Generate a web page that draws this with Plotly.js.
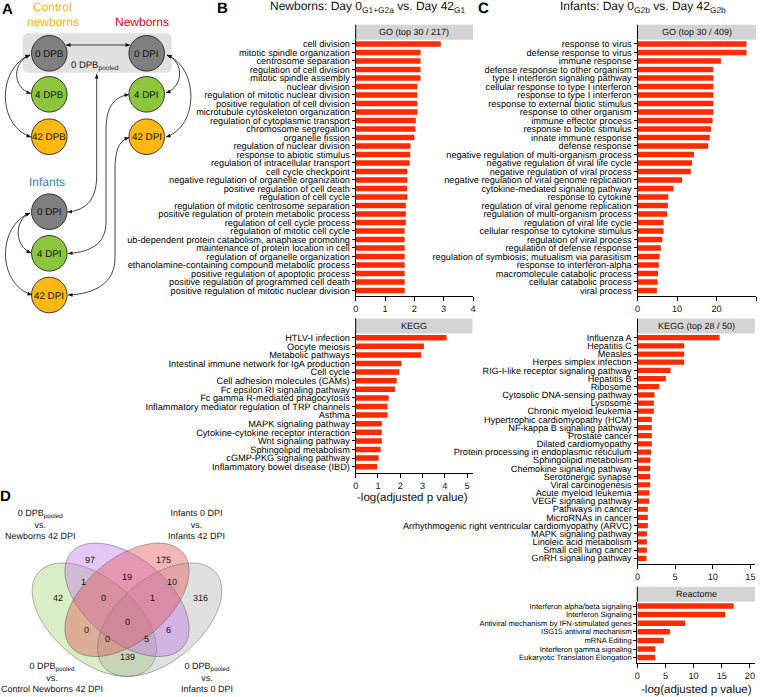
<!DOCTYPE html>
<html><head><meta charset="utf-8">
<script src="https://cdn.plot.ly/plotly-3.0.1.min.js"></script>
<style>html,body{margin:0;padding:0;background:#fff}#chart{width:761px;height:697px}#chart text{text-rendering:geometricPrecision}</style>
</head><body><div id="chart"></div>
<script>
// ---------------- DATA ----------------
const goB_terms = ["cell division","mitotic spindle organization","centrosome separation","regulation of cell division","mitotic spindle assembly","nuclear division","regulation of mitotic nuclear division","positive regulation of cell division","microtubule cytoskeleton organization","regulation of cytoplasmic transport","chromosome segregation","organelle fission","regulation of nuclear division","response to abiotic stimulus","regulation of intracellular transport","cell cycle checkpoint","negative regulation of organelle organization","positive regulation of cell death","regulation of cell cycle","regulation of mitotic centrosome separation","positive regulation of protein metabolic process","regulation of cell cycle process","regulation of mitotic cell cycle","ub-dependent protein catabolism, anaphase promoting","maintenance of protein location in cell","regulation of organelle organization","ethanolamine-containing compound metabolic process","positive regulation of apoptotic process","positive regulation of programmed cell death","positive regulation of mitotic nuclear division"];
const goB_vals = [2.90,2.21,2.21,2.21,2.21,2.10,2.10,2.10,2.10,2.05,2.04,2.00,1.87,1.86,1.84,1.76,1.76,1.75,1.76,1.71,1.71,1.71,1.67,1.67,1.67,1.67,1.67,1.67,1.67,1.67];

const keggB_terms = ["HTLV-I infection","Oocyte meiosis","Metabolic pathways","Intestinal immune network for IgA production","Cell cycle","Cell adhesion molecules (CAMs)","Fc epsilon RI signaling pathway","Fc gamma R-mediated phagocytosis","Inflammatory mediator regulation of TRP channels","Asthma","MAPK signaling pathway","Cytokine-cytokine receptor interaction","Wnt signaling pathway","Sphingolipid metabolism","cGMP-PKG signaling pathway","Inflammatory bowel disease (IBD)"];
const keggB_vals = [4.08,3.06,2.94,2.05,1.96,1.84,1.76,1.48,1.43,1.43,1.17,1.17,1.17,1.12,1.03,0.96];

const goC_terms = ["response to virus","defense response to virus","immune response","defense response to other organism","type I interferon signaling pathway","cellular response to type I interferon","response to type I interferon","response to external biotic stimulus","response to other organism","immune effector process","response to biotic stimulus","innate immune response","defense response","negative regulation of multi-organism process","negative regulation of viral life cycle","negative regulation of viral process","negative regulation of viral genome replication","cytokine-mediated signaling pathway","response to cytokine","regulation of viral genome replication","regulation of multi-organism process","regulation of viral life cycle","cellular response to cytokine stimulus","regulation of viral process","regulation of defense response","regulation of symbiosis; mutualism via parasitism","response to interferon-alpha","macromolecule catabolic process","cellular catabolic process","viral process"];
const goC_vals = [27.6,27.6,21.1,19.2,19.2,19.2,19.2,19.2,19.2,19.0,18.6,18.3,17.9,14.3,13.8,13.5,11.3,9.1,7.8,7.7,7.5,6.6,6.6,6.3,5.9,5.6,5.4,5.2,5.1,4.9];

const keggC_terms = ["Influenza A","Hepatitis C","Measles","Herpes simplex infection","RIG-I-like receptor signaling pathway","Hepatitis B","Ribosome","Cytosolic DNA-sensing pathway","Lysosome","Chronic myeloid leukemia","Hypertrophic cardiomyopathy (HCM)","NF-kappa B signaling pathway","Prostate cancer","Dilated cardiomyopathy","Protein processing in endoplasmic reticulum","Sphingolipid metabolism","Chemokine signaling pathway","Serotonergic synapse","Viral carcinogenesis","Acute myeloid leukemia","VEGF signaling pathway","Pathways in cancer","MicroRNAs in cancer","Arrhythmogenic right ventricular cardiomyopathy (ARVC)","MAPK signaling pathway","Linoleic acid metabolism","Small cell lung cancer","GnRH signaling pathway"];
const keggC_vals = [10.9,6.2,6.2,6.2,4.4,3.76,2.9,2.26,2.17,2.17,1.9,1.9,1.9,1.9,1.81,1.72,1.68,1.68,1.68,1.59,1.55,1.37,1.37,1.37,1.24,1.24,1.24,1.19];

const reactome_terms = ["Interferon alpha/beta signaling","Interferon Signaling","Antiviral mechanism by IFN-stimulated genes","ISG15 antiviral mechanism","mRNA Editing","Interferon gamma signaling","Eukaryotic Translation Elongation"];
const reactome_vals = [17.1,15.6,8.5,5.8,4.7,3.2,3.2];

const headers = ["GO (top 30 / 217)","KEGG","GO (top 30 / 409)","KEGG (top 28 / 50)","Reactome"];
const titleB = "Newborns: Day 0<sub>G1+G2a</sub> vs. Day 42<sub>G1</sub>";
const titleC = "Infants: Day 0<sub>G2b</sub> vs. Day 42<sub>G2b</sub>";
const xTitle = "-log(adjusted p value)";

const vennSetLabels = ["0 DPB<sub>pooled</sub><br>vs.<br>Newborns 42 DPI","Infants 0 DPI<br>vs.<br>Infants 42 DPI","0 DPB<sub>pooled</sub><br>vs.<br>Control Newborns 42 DPI","0 DPB<sub>pooled</sub><br>vs.<br>Infants 0 DPI"];
const vennCounts = [97,175,1,19,10,42,0,1,316,0,0,6,0,5,139];

const nodeLabels = ["0 DPB","0 DPI","4 DPB","4 DPI","42 DPB","42 DPI","0 DPI","4 DPI","42 DPI"];

// ---------------- LAYOUT HELPERS ----------------
const W=761,H=697;
const FONT='Liberation Sans, Arial, sans-serif';
const INK='#111111';
const BAR='#ff2a00';
const px=x=>x/W, py=y=>1-y/H;
const P=(x,y)=>(x/W).toFixed(5)+','+(1-y/H).toFixed(5);

const traces=[], shapes=[], ann=[];
const layout={width:W,height:H,margin:{l:0,r:0,t:0,b:0},paper_bgcolor:'#fff',plot_bgcolor:'rgba(0,0,0,0)',
  showlegend:false,hovermode:false,font:{family:FONT,color:INK}};

const panels=[
 {terms:goB_terms, vals:goB_vals, xL:355.7,xR:473,  yTop:39.7, yBot:296,  step:8.5, xmax:4,    dtick:1, fs:9.2, h:0},
 {terms:keggB_terms,vals:keggB_vals,xL:355.7,xR:472.5,yTop:333.4,yBot:472.5,step:8.6, xmax:5.24, dtick:1, fs:9.2, h:1},
 {terms:goC_terms, vals:goC_vals, xL:637.5,xR:756,  yTop:39.7, yBot:296,  step:8.5, xmax:30,   dtick:10,fs:9.2, h:2},
 {terms:keggC_terms,vals:keggC_vals,xL:637.5,xR:755,  yTop:333.6,yBot:564,  step:8.17,xmax:15.6, dtick:5, fs:9.1, h:3},
 {terms:reactome_terms,vals:reactome_vals,xL:637.3,xR:755,yTop:601.7,yBot:663.3,step:8.6,xmax:20.9,dtick:5,fs:7.6,h:4}
];

panels.forEach((p,i)=>{
  const n=i+1, xa='x'+(n>1?n:''), ya='y'+(n>1?n:'');
  traces.push({type:'bar',orientation:'h',x:p.vals,y:p.terms,xaxis:xa,yaxis:ya,
    marker:{color:BAR,line:{width:0}},width:0.64});
  layout['xaxis'+(n>1?n:'')]={domain:[px(p.xL),px(p.xR)],range:[0,p.xmax],anchor:ya,color:INK,
    showline:true,linecolor:'#000',linewidth:1,ticks:'outside',ticklen:4,tickwidth:1,tickcolor:'#000',
    dtick:p.dtick,tick0:0,showgrid:false,zeroline:false,tickfont:{size:9.2,family:FONT,color:INK},fixedrange:true};
  layout['yaxis'+(n>1?n:'')]={domain:[py(p.yBot),py(p.yTop)],type:'category',anchor:xa,color:INK,
    range:[-0.5+(p.yBot-p.yTop)/p.step,-0.5],categoryorder:'array',categoryarray:p.terms,
    tickmode:'array',tickvals:p.terms,ticktext:p.terms,
    showline:true,linecolor:'#000',linewidth:1,ticks:'outside',ticklen:3,tickwidth:1,tickcolor:'#000',
    showgrid:false,zeroline:false,tickfont:{size:p.fs,family:FONT,color:'#000'},fixedrange:true};
  const hTop=p.yTop-15;
  shapes.push({type:'rect',xref:'paper',yref:'paper',x0:px(p.xL),x1:px(p.xR),y0:py(p.yTop),y1:py(hTop),
    fillcolor:'#d4d4d4',line:{width:0}});
  shapes.push({type:'line',xref:'paper',yref:'paper',x0:px(p.xL),x1:px(p.xL),y0:py(p.yTop),y1:py(hTop),line:{color:'#000',width:1}});
  ann.push({xref:'paper',yref:'paper',x:px((p.xL+p.xR)/2),y:py((hTop+p.yTop)/2),text:headers[p.h],showarrow:false,
    xanchor:'center',yanchor:'middle',font:{size:9,family:FONT,color:INK}});
});
layout.bargap=0.35;

function txt(x,y,t,o){ann.push(Object.assign({xref:'paper',yref:'paper',x:px(x),y:py(y),text:t,showarrow:false,xanchor:'center',yanchor:'middle',font:{size:12,family:FONT,color:INK}},o||{}));}
txt(367,7,titleB);
txt(642.5,7,titleC);
txt(412,497,xTitle,{font:{size:11.5,family:FONT,color:INK}});
txt(696,689,xTitle,{font:{size:11.5,family:FONT,color:INK}});
txt(7,8.5,'<b>A</b>',{font:{size:15,family:FONT,color:'#000'}});
txt(223,8,'<b>B</b>',{font:{size:15,family:FONT,color:'#000'}});
txt(483,8,'<b>C</b>',{font:{size:15,family:FONT,color:'#000'}});
txt(5.5,495,'<b>D</b>',{font:{size:15,family:FONT,color:'#000'}});

// ---------------- PANEL A ----------------
(function(){const x0=22.7,x1=171.7,y0=33.3,y1=72.7,r=6;
 const d='M '+P(x0+r,y0)+' L '+P(x1-r,y0)+' Q '+P(x1,y0)+' '+P(x1,y0+r)+' L '+P(x1,y1-r)+' Q '+P(x1,y1)+' '+P(x1-r,y1)+
  ' L '+P(x0+r,y1)+' Q '+P(x0,y1)+' '+P(x0,y1-r)+' L '+P(x0,y0+r)+' Q '+P(x0,y0)+' '+P(x0+r,y0)+' Z';
 shapes.push({type:'path',xref:'paper',yref:'paper',path:d,fillcolor:'#e1e1e1',line:{width:0}});})();
txt(95,65,'0 DPB<sub>pooled</sub>',{font:{size:9.5,family:FONT,color:'#222'}});

function arrowHead(tip,from){
  let dx=tip[0]-from[0],dy=tip[1]-from[1];const l=Math.hypot(dx,dy);dx/=l;dy/=l;
  const L=4.5,w=1.9,bx=tip[0]-dx*L,by=tip[1]-dy*L;
  shapes.push({type:'path',xref:'paper',yref:'paper',
    path:'M '+P(tip[0],tip[1])+' L '+P(bx-dy*w,by+dx*w)+' L '+P(bx+dy*w,by-dx*w)+' Z',fillcolor:INK,line:{width:0}});
}
function connector(s,segs){
  let d='M '+P(s[0],s[1]);let first=null,lastFrom=null,last=s;
  segs.forEach((g,i)=>{
    if(g[0]==='L'){d+=' L '+P(g[1],g[2]);if(!i)first=[g[1],g[2]];lastFrom=last;last=[g[1],g[2]];}
    else{d+=' C '+P(g[1],g[2])+' '+P(g[3],g[4])+' '+P(g[5],g[6]);if(!i)first=[g[1],g[2]];lastFrom=[g[3],g[4]];last=[g[5],g[6]];}
  });
  shapes.push({type:'path',xref:'paper',yref:'paper',path:d,line:{color:INK,width:0.8}});
  arrowHead(s,first);arrowHead(last,lastFrom);
}
connector([66,45],[['L',130,45]]);
connector([30,55],[['C',12,62,12,88,31,93.5]]);
connector([30,55],[['C',-3,68,-3,126,31,137]]);
connector([167,55],[['C',184,62,184,86,166,93]]);
connector([167,55],[['C',199,68,199,126,166,137]]);
connector([96.7,74],[['L',96.7,175],['C',96.7,198,88,210,67.5,212]]);
connector([129,94.5],[['C',112,97,106,110,106,130],['L',106,222],['C',106,243,92,252,68,253.5]]);
connector([129,137.5],[['C',118,141,115,152,115,170],['L',115,258],['C',115,283,95,294,68,295]]);
connector([30,213],[['C',14,220,14,246,31,253]]);
connector([30,213],[['C',-3,226,-3,284,32,295]]);

const nodePos=[[49.3,53.3],[146.7,53.3],[49.3,94.3],[146.7,94.3],[49.3,136.7],[146.7,136.7],[49.3,211.7],[49.3,253.3],[49.3,295]];
const nodeCol=['#7f7f7f','#7f7f7f','#8cc63f','#8cc63f','#fdb813','#fdb813','#7f7f7f','#8cc63f','#fdb813'];
const R=17.8;
nodePos.forEach((c,i)=>{
  shapes.push({type:'circle',xref:'paper',yref:'paper',x0:px(c[0]-R),x1:px(c[0]+R),y0:py(c[1]+R),y1:py(c[1]-R),
    fillcolor:nodeCol[i],line:{color:INK,width:0.8}});
  txt(c[0],c[1],nodeLabels[i],{font:{size:9.8,family:FONT,color:INK}});
});
txt(52.5,7,'Control',{font:{size:12,family:FONT,color:'#f5b400'}});
txt(52.5,21.7,'newborns',{font:{size:12,family:FONT,color:'#f5b400'}});
txt(141.7,21.7,'Newborns',{font:{size:12,family:FONT,color:'#e3001b'}});
txt(47.3,181.7,'Infants',{font:{size:12,family:FONT,color:'#3c7dc4'}});

// ---------------- PANEL D (Venn) ----------------
const VX=u=>127+(u-0.5)*218, VY=v=>560+(0.77-v)*199;
function ellipse(cx,cy,dir,fill){
  const a=0.35,b=0.2,s=Math.SQRT1_2;const e1=[s,dir*s],e2=[-dir*s,s];let d='';
  for(let i=0;i<=90;i++){const t=i/90*2*Math.PI;const u=cx+a*Math.cos(t)*e1[0]+b*Math.sin(t)*e2[0];const v=cy+a*Math.cos(t)*e1[1]+b*Math.sin(t)*e2[1];
    d+=(i?' L ':'M ')+P(VX(u),VY(v));}
  shapes.push({type:'path',xref:'paper',yref:'paper',path:d+' Z',fillcolor:fill,line:{color:'rgba(70,70,70,0.7)',width:0.6}});
}
ellipse(0.35,0.47,-1,'rgba(150,205,90,0.35)');
ellipse(0.65,0.47,1,'rgba(160,160,160,0.32)');
ellipse(0.5,0.57,-1,'rgba(190,105,235,0.38)');
ellipse(0.5,0.57,1,'rgba(225,85,85,0.42)');

const vennPos=[[90,560],[163,560],[83,582],[127,577],[172,582],[58,598],[103,598],[152,598],[200,598],[127,622],[86,630],[168,630],[107,639],[146,639],[127,657]];
vennCounts.forEach((c,i)=>txt(vennPos[i][0],vennPos[i][1],String(c),{font:{size:9,family:FONT,color:INK}}));
txt(40,524,vennSetLabels[0],{font:{size:9,family:FONT,color:INK}});
txt(197,524,vennSetLabels[1],{font:{size:9,family:FONT,color:INK}});
txt(52,696,vennSetLabels[2],{yanchor:'bottom',font:{size:9,family:FONT,color:INK}});
txt(207,696,vennSetLabels[3],{yanchor:'bottom',font:{size:9,family:FONT,color:INK}});

layout.shapes=shapes;layout.annotations=ann;
Plotly.newPlot('chart',traces,layout,{staticPlot:true,displayModeBar:false});
</script></body></html>
